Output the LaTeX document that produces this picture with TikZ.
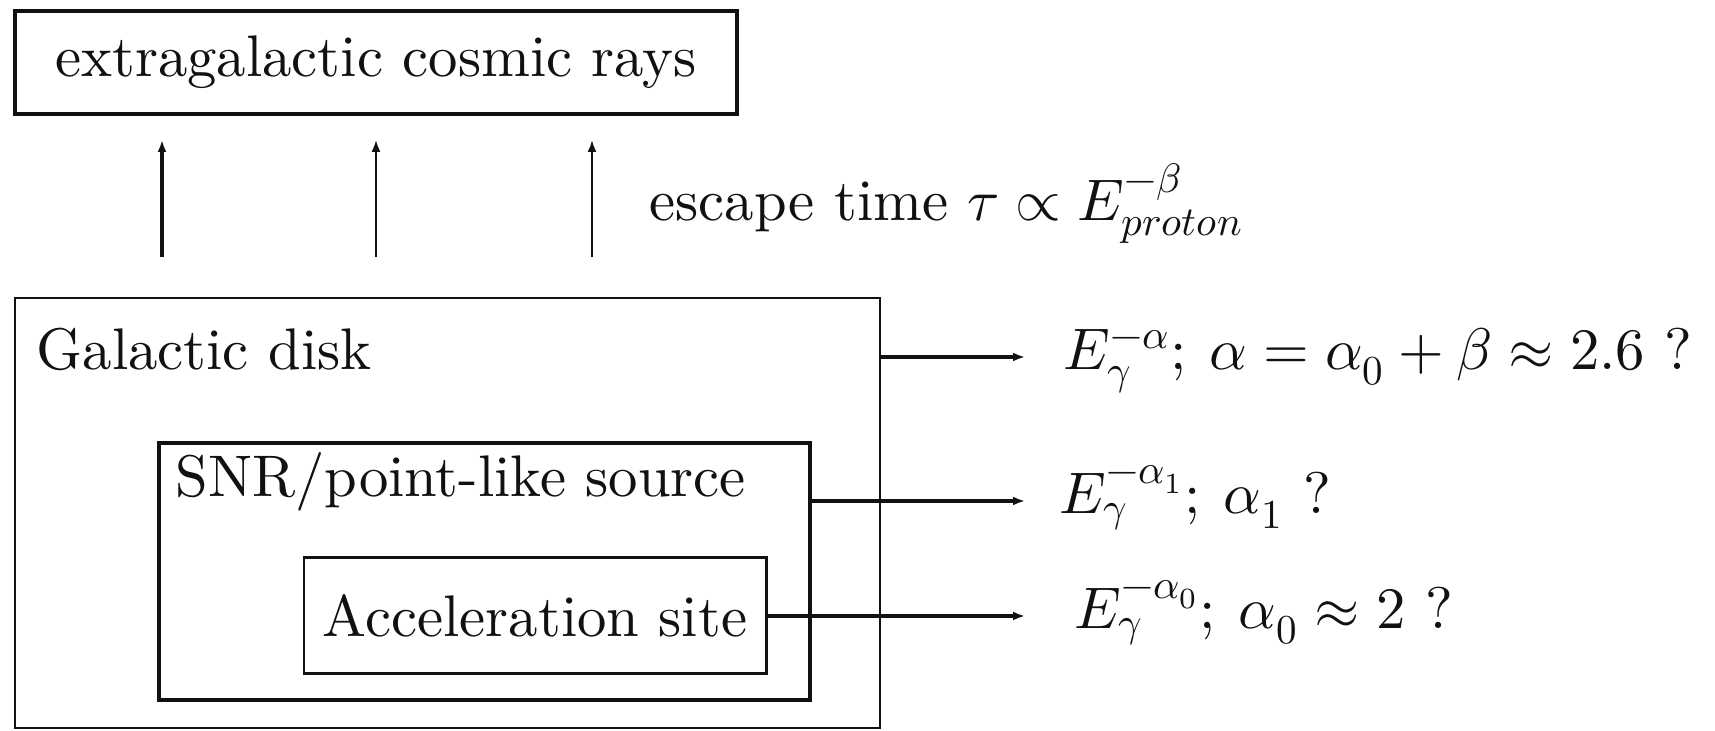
\documentclass[tikz,border=0pt]{standalone}
\usepackage{fontspec}
\usepackage{unicode-math}
\setmainfont{lmroman10-regular.otf}
\setmathfont{latinmodern-math.otf}
\usetikzlibrary{
  arrows.meta,
  positioning
}
\definecolor{diagInk}{HTML}{111111}
\tikzset{
  every node/.style={font=\fontsize{16.7}{20}\selectfont, text=diagInk},
  panel/.style={
    rectangle,
    draw=diagInk,
    inner sep=0pt
  },
  outer/.style={
    panel,
    line width=0.6pt
  },
  inner/.style={
    panel,
    line width=1.1pt
  },
  caption/.style={
    anchor=base west,
    inner sep=0pt
  },
  flux/.style={
    -{Latex[length=1.2mm,width=0.9mm]},
    line width=1.15pt,
    draw=diagInk
  },
  rise/.style={
    -{Latex[length=1.2mm,width=0.9mm]},
    line width=0.55pt,
    draw=diagInk
  }
}

\begin{document}
\begin{tikzpicture}[x=1cm,y=1cm]
  \useasboundingbox (0,0) rectangle (17.15,7.31);

  \node[inner, minimum width=7.22cm, minimum height=1.03cm] (ecr) at (3.76,6.685)
    {extragalactic cosmic rays};

  \node[outer, minimum width=8.65cm, minimum height=4.30cm] (disk) at (4.475,2.18) {};
  \node[inner, minimum width=6.51cm, minimum height=2.57cm] (snr) at (4.845,1.595) {};
  \node[panel, line width=0.85pt, minimum width=4.62cm, minimum height=1.16cm] (acc)
    at (5.35,1.15) {Acceleration site};

  \node[caption] (disktxt) at (0.36,3.61) {Galactic disk};
  \node[caption] (snrtxt) at (1.75,2.34) {SNR/point-like source};

  \foreach \i/\x/\w in {1/1.62/0.9pt, 2/3.76/0.55pt, 3/5.92/0.6pt}{
    \coordinate (low\i) at (\x,4.74);
    \coordinate (high\i) at (\x,5.91);
    \draw[rise, line width=\w] (low\i) -- (high\i);
  }
  \node[caption] (esc) at (6.49,5.10) {escape time $\tau \propto E^{-\beta}_{proton}$};

  \coordinate (out1) at (10.25,3.74);
  \coordinate (out2) at (10.25,2.30);
  \coordinate (out3) at (10.25,1.15);
  \draw[flux] (disk.east |- out1) -- (out1);
  \draw[flux] (snr.east |- out2) -- (out2);
  \draw[flux] (acc.east) -- (out3);

  \node[caption] (flux1) at (10.63,3.61)
    {$E_\gamma^{-\alpha};\: \alpha = \alpha_0 + \beta \approx 2.6$ ?};
  \node[caption] (flux2) at (10.59,2.17) {$E_\gamma^{-\alpha_1};\: \alpha_1$ ?};
  \node[caption] (flux3) at (10.74,1.02) {$E_\gamma^{-\alpha_0};\: \alpha_0 \approx 2$ ?};
\end{tikzpicture}
\end{document}
